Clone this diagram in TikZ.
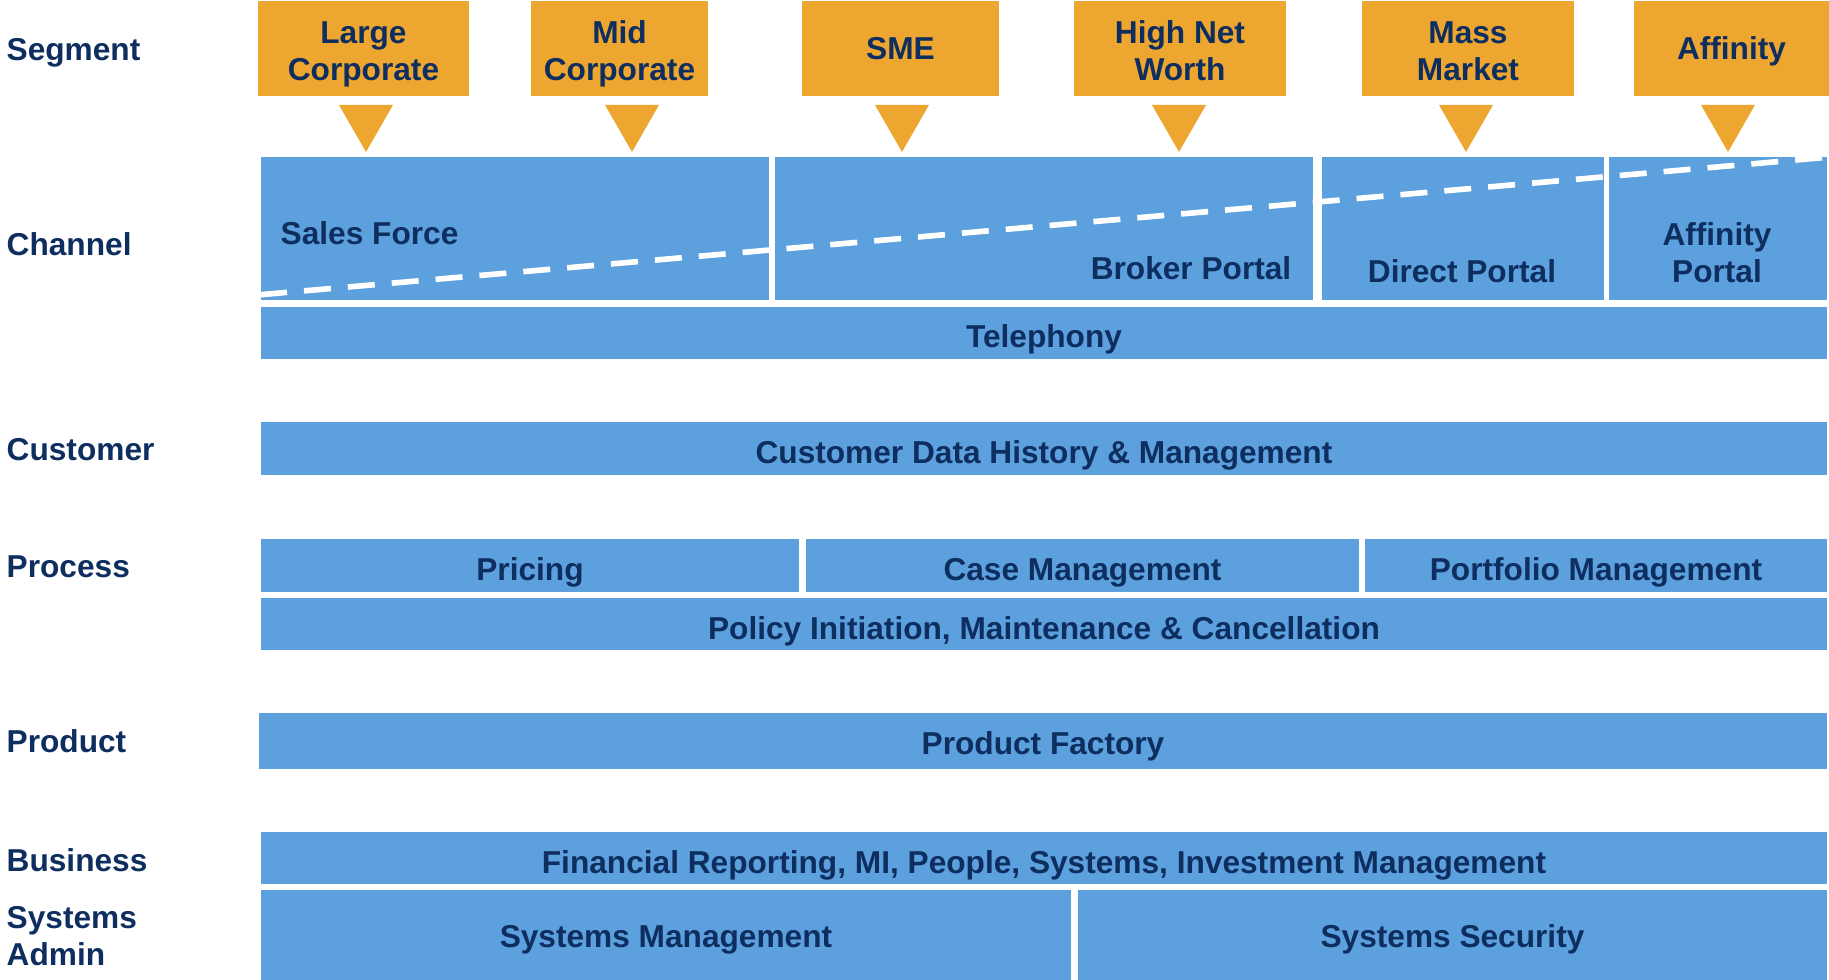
\documentclass[tikz,border=0pt]{standalone}
\usepackage{fontspec}
\setmainfont{Liberation Sans}
\definecolor{segorange}{RGB}{237,167,48}
\definecolor{blockblue}{RGB}{92,160,222}
\definecolor{navy}{RGB}{14,46,96}

\tikzstyle{txt}=[text=navy,font=\fontsize{9}{10.5}\selectfont\bfseries,align=center,inner sep=0pt,text depth=0pt]
\tikzstyle{layer}=[txt,anchor=west,align=left]
\tikzstyle{seg}=[txt,rectangle,fill=segorange,minimum height=0.95cm]
\tikzstyle{seg2}=[seg,text height=1.8em]
\tikzstyle{blk}=[txt,rectangle,fill=blockblue,text height=0.88em]
\tikzstyle{split} = [white,line width=1.6pt,dash pattern=on 0.27cm off 0.17cm]

\begin{document}
\begin{tikzpicture}[x=0.01cm,y=-0.01cm]
	\useasboundingbox (0,0) rectangle (1829,980);
			% Layer names down the left side
			\node[layer] (lseg) at (6,49) {Segment};
			\node[layer] (lchan) at (6,244) {Channel};
			\node[layer] (lcust) at (6,449) {Customer};
			\node[layer] (lproc) at (6,567) {Process};
			\node[layer] (lprod) at (6,741) {Product};
			\node[layer] (lbus) at (6,860) {Business};
			\node[layer] (lsys) at (6,936) {Systems\\Admin};
			% Customer segments
			\node[seg2,minimum width=2.11cm] (lc) at (363.5,48.5) {Large\\Corporate};
			\node[seg2,minimum width=1.77cm] (mc) at (619.5,48.5) {Mid\\Corporate};
			\node[seg,minimum width=1.97cm] (sme) at (900.5,48.5) {SME};
			\node[seg2,minimum width=2.12cm] (hnw) at (1180,48.5) {High Net\\Worth};
			\node[seg2,minimum width=2.12cm] (mm) at (1468,48.5) {Mass\\Market};
			\node[seg,minimum width=1.95cm] (aff) at (1731.5,48.5) {Affinity};
			% Pointers under the segments
			\foreach \cx in {366,632,902,1179,1466,1728}
				\fill[segorange] (\cx-27,105) -- (\cx+27,105) -- (\cx,152) -- cycle;
			% Channels
			\node[blk,minimum width=5.08cm,minimum height=1.43cm] (sf) at (515,228.5) {};
			\node[blk,minimum width=5.38cm,minimum height=1.43cm] (bp) at (1044,228.5) {};
			\node[blk,minimum width=2.82cm,minimum height=1.43cm] (dp) at (1463,228.5) {};
			\node[blk,minimum width=2.18cm,minimum height=1.43cm] (ap) at (1718,228.5) {};
			\coordinate (dl) at ([yshift=0.06cm]sf.south west);
			\coordinate (dr) at ([yshift=-0.01cm]ap.north east);
			\draw[split] (dl) -- (dr);
			\node[txt,anchor=west] (sftxt) at (280,233) {Sales Force};
			\node[txt,anchor=east] (bptxt) at (1292,268) {Broker Portal};
			\node[txt] (dptxt) at (1462,271) {Direct Portal};
			\node[txt] (aptxt) at (1717,253) {Affinity\\Portal};
			\node[blk,minimum width=15.66cm,minimum height=0.52cm,text height=0.85em] (tel) at (1044,333) {Telephony};
			% Customer
			\node[blk,minimum width=15.66cm,minimum height=0.53cm,text height=0.83em] (cdh) at (1044,448.5) {Customer Data History \& Management};
			% Process
			\node[blk,minimum width=5.38cm,minimum height=0.53cm] (pri) at (530,565.5) {Pricing};
			\node[blk,minimum width=5.53cm,minimum height=0.53cm] (cm) at (1082.5,565.5) {Case Management};
			\node[blk,minimum width=4.62cm,minimum height=0.53cm] (pm) at (1596,565.5) {Portfolio Management};
			\node[blk,minimum width=15.66cm,minimum height=0.52cm] (pol) at (1044,624) {Policy Initiation, Maintenance \& Cancellation};
			% Product
			\node[blk,minimum width=15.68cm,minimum height=0.56cm,text height=0.76em] (pf) at (1043,741) {Product Factory};
			% Business and systems admin
			\node[blk,minimum width=15.66cm,minimum height=0.52cm] (fin) at (1044,858) {Financial Reporting, MI, People, Systems, Investment Management};
			\node[blk,minimum width=8.10cm,minimum height=0.90cm,text height=0.72em] (smg) at (666,935) {Systems Management};
			\node[blk,minimum width=7.49cm,minimum height=0.90cm,text height=0.72em] (ssc) at (1452.5,935) {Systems Security};
\end{tikzpicture}
\end{document}
